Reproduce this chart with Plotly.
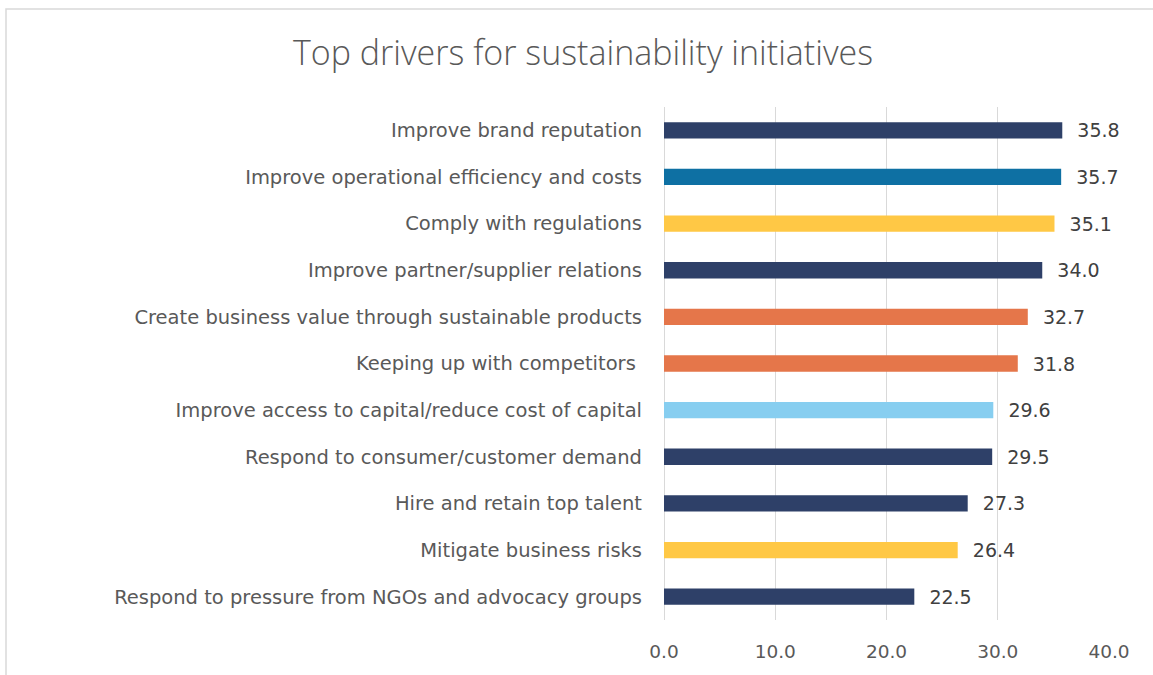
import plotly.graph_objects as go

categories = [
    "Improve brand reputation",
    "Improve operational efficiency and costs",
    "Comply with regulations",
    "Improve partner/supplier relations",
    "Create business value through sustainable products",
    "Keeping up with competitors ",
    "Improve access to capital/reduce cost of capital",
    "Respond to consumer/customer demand",
    "Hire and retain top talent",
    "Mitigate business risks",
    "Respond to pressure from NGOs and advocacy groups",
]
values = [35.8, 35.7, 35.1, 34.0, 32.7, 31.8, 29.6, 29.5, 27.3, 26.4, 22.5]
bar_colors = ["#2E4068", "#0E70A3", "#FFC845", "#2E4068", "#E5764A", "#E5764A",
              "#87CEF0", "#2E4068", "#2E4068", "#FFC845", "#2E4068"]
tick_vals = [0, 10, 20, 30, 40]
tick_text = ["0.0", "10.0", "20.0", "30.0", "40.0"]

FONT = "DejaVu Sans"

fig = go.Figure(go.Bar(
    x=values, y=categories, orientation="h",
    marker=dict(color=bar_colors, line=dict(width=0)),
    width=0.35,
    text=["\u00a0\u00a0" + f"{v:.1f}" for v in values], textposition="outside",
    constraintext="none",
    textfont=dict(family=FONT, size=19, color="#404040"),
    cliponaxis=False,
))

fig.update_layout(
    width=1153, height=675,
    paper_bgcolor="white", plot_bgcolor="white",
    margin=dict(l=664, r=44, t=107, b=55),
    title=dict(text="Top drivers for sustainability initiatives",
               x=583 / 1153, xanchor="center", y=1 - 53 / 675, yanchor="middle",
               font=dict(family="Open Sans", size=34, color="#595959", weight=300)),
    xaxis=dict(range=[0, 40], tickvals=tick_vals, ticktext=tick_text,
               showgrid=True, gridcolor="#D9D9D9", gridwidth=1,
               zeroline=True, zerolinecolor="#D9D9D9", zerolinewidth=1,
               showline=False, ticks="", ticklabelstandoff=18,
               tickfont=dict(family=FONT, size=18.5, color="#595959")),
    yaxis=dict(autorange="reversed", showgrid=False, showline=False, ticks="",
               ticklabelstandoff=21,
               tickfont=dict(family=FONT, size=19.5, color="#595959")),
    showlegend=False,
    shapes=[dict(type="rect", xref="paper", yref="paper",
                 x0=(6 - 664) / 445, x1=(1160 - 664) / 445,
                 y0=(675 - 690 - 55) / 513, y1=(675 - 9 - 55) / 513,
                 line=dict(color="#D9D9D9", width=1.5), layer="below")],
)

fig.write_html("out.html")
